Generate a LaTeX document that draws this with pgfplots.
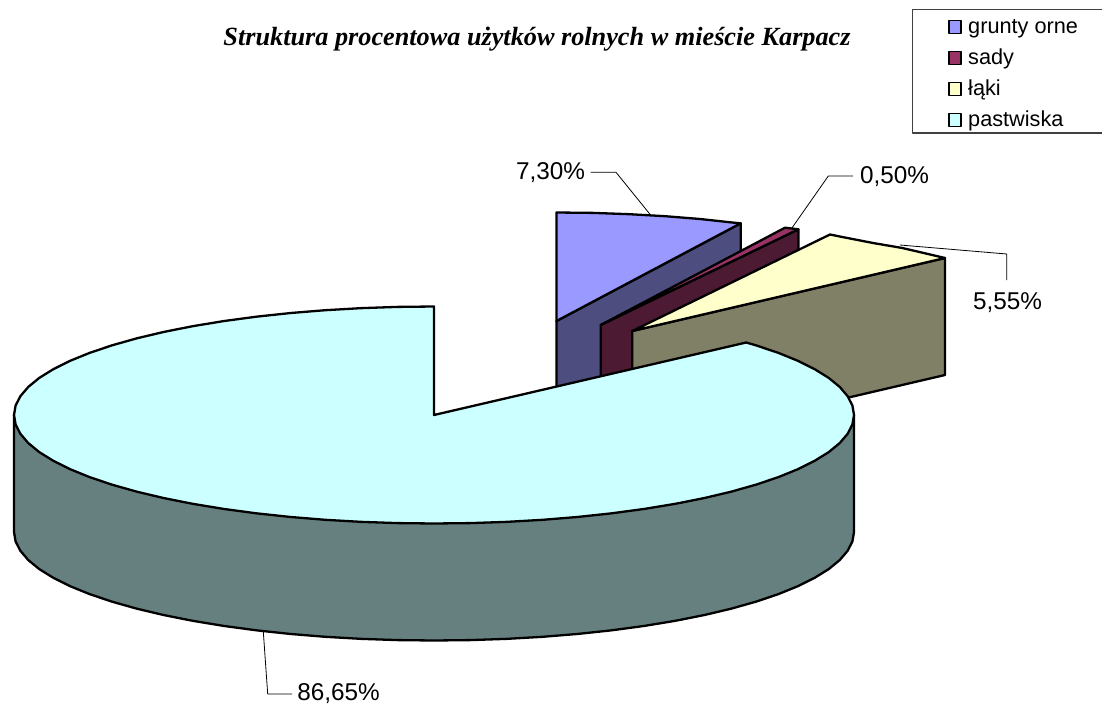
\documentclass[border=0pt]{standalone}
\usepackage{pgfplots}
\pgfplotsset{compat=1.18}
\usepackage{fontspec}
\setmainfont{Liberation Sans}
\newfontfamily\titlefont{Liberation Serif}
\definecolor{gruntyT}{HTML}{9999FF}
\definecolor{gruntyW}{HTML}{4D4D80}
\definecolor{sadyT}{HTML}{993366}
\definecolor{sadyW}{HTML}{4D1A33}
\definecolor{lakiT}{HTML}{FFFFCC}
\definecolor{lakiW}{HTML}{808066}
\definecolor{pastT}{HTML}{CCFFFF}
\definecolor{pastW}{HTML}{668080}
\begin{document}
\begin{tikzpicture}[x=1bp,y=1bp]
\useasboundingbox (0,0) rectangle (1102bp,707bp);
\begin{axis}[
  at={(0,0)}, anchor=south west,
  scale only axis, width=1102bp, height=707bp,
  xmin=0, xmax=1102, ymin=0, ymax=707, y dir=reverse,
  hide axis, clip=true,
  every axis plot/.append style={mark=none, line join=round},
  legend image code/.code={\node[anchor=west,inner sep=0pt,minimum width=55.5bp,minimum height=1bp,draw=none,fill=none] at (0bp,0bp) {};\path[draw=black,line width=1.6bp,#1] (37.5bp,-6.5bp) rectangle (49.5bp,6.5bp);},
  legend style={at={(axis cs:912.5,11.5)}, anchor=north west, draw=none, fill=none,
    inner xsep=0bp, inner ysep=0bp, row sep=0bp,
    font=\fontsize{21.7bp}{24bp}\selectfont,
    nodes={inner xsep=0bp, inner ysep=0bp, text height=22bp, text depth=9bp, anchor=west},
    legend cell align=left},
]
% legend frame (its right side lies beyond the picture)
\addplot[forget plot, draw=black!75, line width=1.2bp] coordinates {(1103,133) (912.5,133) (912.5,9.5) (1103,9.5)};
% grunty orne
\addplot[forget plot, fill=gruntyW, draw=black, line width=2.3bp] coordinates {(556.5,321) (740.7,223.3) (740.7,340.3) (556.5,438)} -- cycle;
\addplot[fill=gruntyT, draw=black, line width=2.3bp] coordinates {(556.5,321) (556.5,212.5) (593.1,212.9) (629.4,214.2) (665.2,216.2) (700.1,219) (734,222.7) (740.7,223.3)} -- cycle;
\addlegendentry{grunty orne}
% sady
\addplot[forget plot, fill=sadyW, draw=black, line width=2.3bp] coordinates {(600.7,325) (798.4,229.3) (798.4,346.3) (600.7,442)} -- cycle;
\addplot[fill=sadyT, draw=black, line width=2.3bp] coordinates {(600.7,325) (785,227.7) (798.4,229.3)} -- cycle;
\addlegendentry{sady}
% laki
\addplot[forget plot, fill=lakiW, draw=black, line width=2.3bp] coordinates {(632.3,331) (945,258) (945,375) (632.3,448)} -- cycle;
\addplot[fill=lakiT, draw=black, line width=2.3bp] coordinates {(632.3,331) (830,234.5) (842.3,237) (873,243) (902.3,248) (929.3,254.3) (945,258)} -- cycle;
\addlegendentry{łąki}
% pastwiska wall
\addplot[forget plot, fill=pastW, draw=black, line width=2.3bp] coordinates {(14,415) (14,532) (15.6,541.46) (20.4,550.84) (28.3,560.08) (39.3,569.11) (53.4,577.85) (70.3,586.25) (89.9,594.23) (112.3,601.74) (137,608.72) (164,615.11) (193.1,620.88) (224,625.96) (256.5,630.33) (290.4,633.96) (325.3,636.8) (361.1,638.85) (397.4,640.09) (434,640.5) (470.6,640.09) (506.9,638.85) (542.7,636.8) (577.6,633.96) (611.5,630.33) (644,625.96) (674.9,620.88) (704,615.11) (731,608.72) (755.7,601.74) (778.1,594.23) (797.7,586.25) (814.6,577.85) (828.7,569.11) (839.7,560.08) (847.6,550.84) (852.4,541.46) (854,532) (854,415)} -- cycle;
% pastwiska top
\addplot[fill=pastT, draw=black, line width=2.3bp] coordinates {(434,415) (434,306.5) (397.4,306.9) (361.1,308.15) (325.3,310.2) (290.4,313.04) (256.5,316.67) (224,321.04) (193.1,326.12) (164,331.89) (137,338.28) (112.3,345.26) (89.9,352.77) (70.3,360.75) (53.4,369.15) (39.3,377.89) (28.3,386.92) (20.4,396.16) (15.6,405.54) (14,415) (15.6,424.46) (20.4,433.84) (28.3,443.08) (39.3,452.11) (53.4,460.85) (70.3,469.25) (89.9,477.23) (112.3,484.74) (137,491.72) (164,498.11) (193.1,503.88) (224,508.96) (256.5,513.33) (290.4,516.96) (325.3,519.8) (361.1,521.85) (397.4,523.09) (434,523.5) (470.6,523.09) (506.9,521.85) (542.7,519.8) (577.6,516.96) (611.5,513.33) (644,508.96) (674.9,503.88) (704,498.11) (731,491.72) (755.7,484.74) (778.1,477.23) (797.7,469.25) (814.6,460.85) (828.7,452.11) (839.7,443.08) (847.6,433.84) (852.4,424.46) (854,415) (852.4,405.54) (847.6,396.16) (839.7,386.92) (828.7,377.89) (814.6,369.15) (797.7,360.75) (778.1,352.77) (755.7,345.26) (746.2,342.5)} -- cycle;
\addlegendentry{pastwiska}
% leaders
\addplot[forget plot, draw=black, line width=0.8bp] coordinates {(590.7,172.3) (616,172.3) (650,214.3)};
\addplot[forget plot, draw=black, line width=0.8bp] coordinates {(853,176) (828.3,176) (791.7,228.3)};
\addplot[forget plot, draw=black, line width=0.8bp] coordinates {(900,245) (1006.7,254) (1006.7,280)};
\addplot[forget plot, draw=black, line width=0.8bp] coordinates {(263.3,631.7) (267.7,694) (292,694)};
\node[font=\fontsize{24.3bp}{28bp}\selectfont, inner sep=0pt] at (axis cs:550.5,172.5) {7,30\%};
\node[font=\fontsize{24.3bp}{28bp}\selectfont, inner sep=0pt] at (axis cs:894.5,177) {0,50\%};
\node[font=\fontsize{24.3bp}{28bp}\selectfont, inner sep=0pt] at (axis cs:1007.5,303) {5,55\%};
\node[font=\fontsize{24.3bp}{28bp}\selectfont, inner sep=0pt] at (axis cs:338.5,694) {86,65\%};
\node[font=\titlefont\bfseries\itshape\fontsize{26.25bp}{30bp}\selectfont, inner sep=0pt] at (axis cs:537,39) {Struktura procentowa użytków rolnych w mieście Karpacz};
\end{axis}
\end{tikzpicture}
\end{document}
